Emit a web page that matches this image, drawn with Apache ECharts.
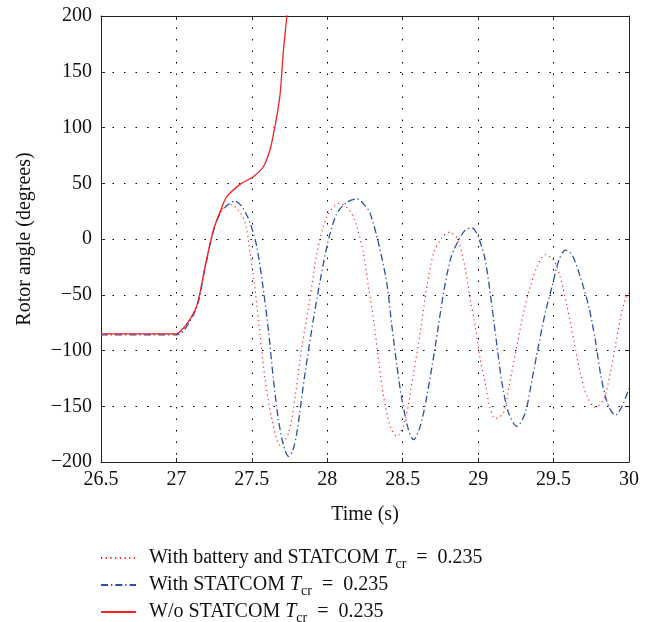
<!DOCTYPE html>
<html>
<head>
<meta charset="utf-8">
<title>Rotor angle</title>
<script src="https://cdn.jsdelivr.net/npm/echarts@6/dist/echarts.min.js"></script>
<style>
    html, body { margin: 0; padding: 0; background: #fff; }
    #main { width: 649px; height: 622px; }
</style>
</head>
<body>
<div id="main"></div>
<script>
var seriesNames = ['With battery and STATCOM', 'With STATCOM', 'W/o STATCOM'];

// With battery and STATCOM (red dotted)
var tBattery = [26.5, 27.0, 27.03, 27.08, 27.135, 27.19, 27.245, 27.3, 27.356, 27.41, 27.456, 27.489,
    27.522, 27.555, 27.588, 27.633, 27.688, 27.743, 27.787, 27.832, 27.887, 27.931, 27.997, 28.08,
    28.152, 28.196, 28.24, 28.273, 28.306, 28.34, 28.373, 28.417, 28.462, 28.517, 28.572, 28.616,
    28.66, 28.704, 28.76, 28.804, 28.859, 28.903, 28.948, 28.981, 29.014, 29.047, 29.076, 29.113,
    29.168, 29.213, 29.257, 29.301, 29.345, 29.39, 29.445, 29.5, 29.544, 29.589, 29.633, 29.677,
    29.721, 29.776, 29.832, 29.876, 29.909, 29.942, 29.975, 30.0];
var vBattery = [-85, -85, -83, -74, -60, -25, 8, 26, 31, 26, 14, -13,
    -46, -87, -126, -162, -185, -174, -141, -96, -52, -13, 20, 32,
    25, 11, -13, -43, -72, -108, -141, -168, -177, -162, -120, -84,
    -43, -13, 1, 6, 1, -19, -54, -78, -108, -129, -150, -161,
    -156, -126, -96, -66, -43, -25, -14, -19, -34, -60, -90, -120,
    -141, -151, -144, -120, -96, -72, -54, -48];

// With STATCOM (blue dash-dot)
var tStatcom = [26.5, 27.0, 27.05, 27.135, 27.19, 27.245, 27.3, 27.389, 27.44, 27.489, 27.533, 27.577,
    27.61, 27.643, 27.676, 27.71, 27.743, 27.77, 27.798, 27.853, 27.908, 27.953, 27.997, 28.019,
    28.064, 28.13, 28.196, 28.25, 28.284, 28.34, 28.395, 28.428, 28.462, 28.495, 28.538, 28.572,
    28.616, 28.66, 28.716, 28.771, 28.815, 28.859, 28.914, 28.959, 29.003, 29.047, 29.091, 29.125,
    29.158, 29.202, 29.257, 29.312, 29.357, 29.4, 29.445, 29.489, 29.533, 29.577, 29.622, 29.677,
    29.732, 29.776, 29.81, 29.843, 29.876, 29.909, 29.954, 30.0];
var vStatcom = [-86, -86, -82, -61, -26, 7, 25, 34, 28, 14, -7, -46,
    -82, -126, -162, -185, -195, -190, -174, -120, -72, -37, -7, 5,
    23, 33, 36, 30, 23, -4, -40, -78, -114, -144, -171, -180,
    -168, -141, -96, -48, -19, -4, 8, 10, 1, -19, -60, -96,
    -129, -156, -168, -156, -126, -96, -66, -43, -20, -10, -14, -34,
    -60, -90, -120, -141, -153, -158, -150, -134];

// W/o STATCOM (red solid)
var tNoStatcom = [26.5, 27.0, 27.025, 27.08, 27.135, 27.19, 27.245, 27.3, 27.334, 27.422, 27.511,
    27.577, 27.62, 27.643, 27.668, 27.688, 27.71, 27.732, 27.75];
var vNoStatcom = [-85, -85, -83, -74, -60, -25, 8, 28, 38, 49, 56,
    65, 80, 94, 112, 131, 170, 200, 230];

function pairs(t, v) {
    var arr = [];
    for (var i = 0; i < t.length; i++) {
        arr.push([t[i], v[i]]);
    }
    return arr;
}

var serif = 'Liberation Serif';

function legendText(name) {
    return '{p|}{n|' + name + ' }{t|T}{s|cr}{n|  =  0.235}';
}

// one legend box per row, so the rows never wrap into a second column
function legendRow(name, top) {
    return {
        left: 100,
        top: top,
        padding: 0,
        itemWidth: 35,
        itemHeight: 14,
        data: [name],
        formatter: legendText,
        itemStyle: { opacity: 0 },
        textStyle: {
            rich: {
                p: { width: 8 },
                n: { fontFamily: serif, fontSize: 20, color: '#111', lineHeight: 22 },
                t: { fontFamily: serif, fontSize: 20, color: '#111', fontStyle: 'italic', lineHeight: 22 },
                s: { fontFamily: serif, fontSize: 14, color: '#111', lineHeight: 12, padding: [10, 0, 0, 0], verticalAlign: 'top' }
            }
        }
    };
}

var myChart = echarts.init(document.getElementById('main'));
var option = {
    animation: false,
    backgroundColor: '#fff',
    grid: {
        left: 101,
        right: 20,
        top: 16,
        bottom: 160,
        containLabel: false
    },
    legend: [
        legendRow(seriesNames[0], 547),
        legendRow(seriesNames[1], 574),
        legendRow(seriesNames[2], 601)
    ],
    xAxis: [{
        type: 'value',
        min: 26.5,
        max: 30,
        interval: 0.5,
        name: 'Time (s)',
        nameLocation: 'middle',
        nameGap: 43,
        nameTextStyle: { fontFamily: serif, fontSize: 20, color: '#111' },
        axisLine: { show: true, onZero: false, lineStyle: { color: '#222', width: 1 } },
        axisTick: { show: true, inside: true, length: 4, lineStyle: { color: '#222' } },
        axisLabel: { fontFamily: serif, fontSize: 20, color: '#111', margin: 8 },
        splitLine: { show: true, lineStyle: { color: '#000', width: 1, type: [1.5, 10] } }
    }, {
        type: 'value',
        position: 'top',
        min: 26.5,
        max: 30,
        interval: 0.5,
        axisLine: { show: true, onZero: false, lineStyle: { color: '#222', width: 1 } },
        axisTick: { show: true, inside: true, length: 4, lineStyle: { color: '#222' } },
        axisLabel: { show: false },
        splitLine: { show: false }
    }],
    yAxis: [{
        type: 'value',
        min: -200,
        max: 200,
        interval: 50,
        name: 'Rotor angle (degrees)',
        nameLocation: 'middle',
        nameGap: 66,
        nameTextStyle: { fontFamily: serif, fontSize: 20, color: '#111' },
        axisLine: { show: true, onZero: false, lineStyle: { color: '#222', width: 1 } },
        axisTick: { show: true, inside: true, length: 4, lineStyle: { color: '#222' } },
        axisLabel: {
            fontFamily: serif, fontSize: 20, color: '#111', margin: 9,
            formatter: function (v) { return String(v).replace('-', '\u2212'); }
        },
        splitLine: { show: true, lineStyle: { color: '#000', width: 1, type: [1.5, 10] } }
    }, {
        type: 'value',
        position: 'right',
        min: -200,
        max: 200,
        interval: 50,
        axisLine: { show: true, onZero: false, lineStyle: { color: '#222', width: 1 } },
        axisTick: { show: true, inside: true, length: 4, lineStyle: { color: '#222' } },
        axisLabel: { show: false },
        splitLine: { show: false }
    }],
    series: [{
        name: seriesNames[0],
        type: 'line',
        smooth: 0.3,
        symbol: 'none',
        clip: true,
        color: '#ff2020',
        lineStyle: { color: '#ff2020', width: 1.2, type: [1.2, 3.5] },
        data: pairs(tBattery, vBattery)
    }, {
        name: seriesNames[1],
        type: 'line',
        smooth: 0.3,
        symbol: 'none',
        clip: true,
        color: '#2f4ea6',
        lineStyle: { color: '#2f4ea6', width: 1.3, type: [7, 3, 1.3, 3] },
        data: pairs(tStatcom, vStatcom)
    }, {
        name: seriesNames[2],
        type: 'line',
        smooth: 0.3,
        symbol: 'none',
        clip: true,
        color: '#ee2222',
        lineStyle: { color: '#ee2222', width: 1.3, type: 'solid' },
        data: pairs(tNoStatcom, vNoStatcom)
    }]
};
myChart.setOption(option);
</script>
</body>
</html>
